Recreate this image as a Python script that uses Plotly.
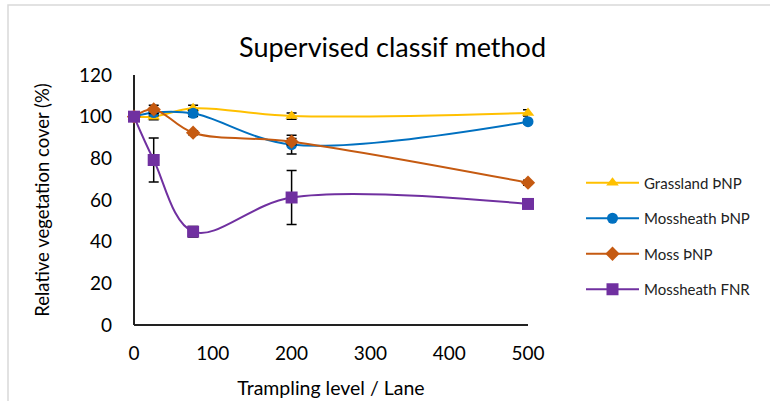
import plotly.graph_objects as go

x_levels = [0, 25, 75, 200, 500]

grassland_pnp = [100, 100, 104, 100.3, 101.8]
grassland_pnp_err = [0, 1.5, 1.5, 1.5, 1.5]

mossheath_pnp = [100, 102, 101.6, 86.6, 97.6]
mossheath_pnp_err = [0, 1.5, 1.5, 4.5, 1.0]

moss_pnp = [100, 103.5, 92.3, 88, 68.3]
moss_pnp_err = [0, 2, 1, 1.5, 1.2]

mossheath_fnr = [100, 79.2, 44.8, 61.2, 58.1]
mossheath_fnr_err = [0, 10.6, 2.5, 13, 0.8]

series_names = ["Grassland ÞNP", "Mossheath ÞNP", "Moss ÞNP", "Mossheath FNR"]
series_values = [grassland_pnp, mossheath_pnp, moss_pnp, mossheath_fnr]
series_errors = [grassland_pnp_err, mossheath_pnp_err, moss_pnp_err, mossheath_fnr_err]
series_colors = ["#FFC000", "#0070C0", "#C55A11", "#7030A0"]
series_symbols = ["triangle-up", "circle", "diamond", "square"]
series_sizes = [11, 11, 11, 12]

x_ticks = [0, 100, 200, 300, 400, 500]
y_ticks = [0, 20, 40, 60, 80, 100, 120]

FONT = "Lato"

fig = go.Figure()
for i, (name, vals, errs, col, sym, sz) in enumerate(zip(series_names, series_values, series_errors,
                                                 series_colors, series_symbols, series_sizes)):
    fig.add_trace(go.Scatter(
        x=x_levels, y=vals, name=name, mode="lines+markers",
        line=dict(color=col, width=2, shape="spline", smoothing=1.0),
        marker=dict(color=col, symbol=sym, size=sz),
        error_y=dict(type="data", array=errs, visible=True, color="black", thickness=1.5, width=5),
        cliponaxis=False,
        legendgroup=f"g{i}",
    ))

L, R, T, B = 134, 242, 75, 76
W, H = 770, 401
pw, ph = W - L - R, H - T - B

def px(xp):
    return (xp - L) / pw

def py(yp):
    return (H - B - yp) / ph

fig.add_shape(type="rect", xref="paper", yref="paper",
              x0=px(8), x1=px(790), y0=py(5), y1=py(420),
              line=dict(color="#D9D9D9", width=1.5), fillcolor="rgba(0,0,0,0)", layer="below")

fig.add_annotation(text="Supervised classif method", xref="paper", yref="paper",
                   x=px(392), y=py(47), xanchor="center", yanchor="middle", showarrow=False,
                   font=dict(family=FONT, size=27, color="#000000"))

fig.update_layout(
    width=W, height=H,
    margin=dict(l=L, r=R, t=T, b=B, autoexpand=False),
    paper_bgcolor="white", plot_bgcolor="white",
    font=dict(family=FONT, color="#000000"),
    showlegend=True,
    legend=dict(x=px(581), y=py(166.5), xanchor="left", yanchor="top",
                font=dict(family=FONT, size=15, color="#222222"),
                itemwidth=53,
                tracegroupgap=13, bgcolor="rgba(0,0,0,0)"),
    xaxis=dict(range=[0, 500], tickvals=x_ticks, showgrid=False,
               zeroline=True, zerolinecolor="#222222", zerolinewidth=1.5,
               showline=False, ticks="",
               tickfont=dict(family=FONT, size=19), ticklabelstandoff=15,
               title=dict(text="Trampling level / Lane", font=dict(family=FONT, size=19.5), standoff=18)),
    yaxis=dict(range=[0, 120], tickvals=y_ticks, showgrid=False,
               zeroline=True, zerolinecolor="#222222", zerolinewidth=1.5,
               showline=False, ticks="",
               tickfont=dict(family=FONT, size=19), ticklabelstandoff=21,
               title=dict(text="Relative vegetation cover (%)", font=dict(family=FONT, size=18.5), standoff=24)),
)

fig.write_html("out.html")
